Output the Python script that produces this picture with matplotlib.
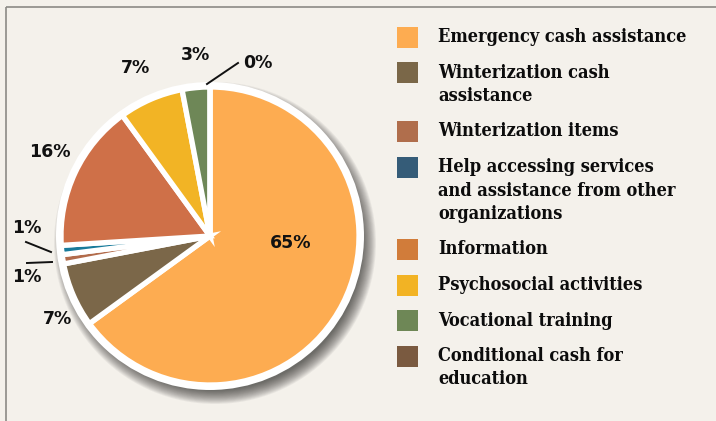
import matplotlib
matplotlib.use("Agg")
import matplotlib.pyplot as plt
from matplotlib.patches import Circle, Rectangle
from matplotlib import font_manager as fm

# ---- data ----
categories = [
    "Emergency cash assistance",
    "Winterization cash\nassistance",
    "Winterization items",
    "Help accessing services\nand assistance from other\norganizations",
    "Information",
    "Psychosocial activities",
    "Vocational training",
    "Conditional cash for\neducation",
]
values = [65, 7, 1, 1, 16, 7, 3, 0]
pct_labels = ["65%", "7%", "1%", "1%", "16%", "7%", "3%", "0%"]

# ---- styles ----
pie_colors = ["#FDAC51", "#7B6749", "#B26B4B", "#187B9B", "#CF7048", "#F2B425", "#6E8757", "#7A5A40"]
legend_colors = ["#FDAC51", "#7A6748", "#B06E4C", "#355C78", "#D17C3A", "#F2B324", "#6E8756", "#7A5A40"]
# label positions in pixel coords (x, y from top)
label_pos = [(291, 243), (57, 319), (27, 277), (27, 228), (50, 152), (135, 68), (195, 55), (258, 63)]
leaders = {2: ((27, 263), (52, 262)), 3: ((26, 242), (51, 252)), 7: ((207, 84), (238, 63))}

W, H = 716, 421
fig = plt.figure(figsize=(W / 100, H / 100), dpi=100)
fig.patch.set_facecolor("#F4F1EB")
ax = fig.add_axes([0, 0, 1, 1])

def Y(y):
    return H - y

cx, cy, r = 210, 236, 149

wedges, _ = ax.pie(values, colors=pie_colors, startangle=90, counterclock=False,
                   center=(cx, Y(cy)), radius=r, frame=False,
                   wedgeprops=dict(edgecolor="white", linewidth=3.8))
for w in wedges:
    w.set_zorder(3)

ax.set_xlim(0, W)
ax.set_ylim(0, H)
ax.set_aspect("equal")
ax.set_axis_off()
for s in ax.spines.values():
    s.set_visible(False)

# border lines (top & left)
ax.plot([6, W + 5], [Y(7), Y(7)], color="#8C8A86", lw=1.2, solid_capstyle="butt", clip_on=False)
ax.plot([6, 6], [Y(7), -5], color="#8C8A86", lw=1.2, solid_capstyle="butt", clip_on=False)

# shadow
for i in range(16):
    ax.add_patch(Circle((cx + 5, Y(cy + 7)), r + 12 - i * 0.9, facecolor="#222222",
                        edgecolor="none", alpha=0.06, zorder=1))
# white ring
ax.add_patch(Circle((cx, Y(cy)), r + 5, facecolor="white", edgecolor="none", zorder=2))

for i, (lab, (px, py)) in enumerate(zip(pct_labels, label_pos)):
    ax.text(px, Y(py), lab, ha="center", va="center", fontsize=12.5,
            fontweight="bold", family="DejaVu Sans", color="#111111", zorder=5)
for i, ((x0, y0), (x1, y1)) in leaders.items():
    ax.plot([x0, x1], [Y(y0), Y(y1)], color="#111111", lw=1.4, zorder=5)

# legend font
fp = fm.FontProperties(family="DejaVu Serif", weight="bold", stretch="condensed")
path = fm.findfont(fp, fallback_to_default=True)
if "Condensed" in path:
    font_kw = dict(fontproperties=fm.FontProperties(fname=path, size=13.1))
else:
    font_kw = dict(family="DejaVu Serif", fontweight="bold", fontsize=12.0)

y = 37
for cat, col in zip(categories, legend_colors):
    lines = cat.split("\n")
    ax.add_patch(Rectangle((397, Y(y + 10.5)), 21, 21, facecolor=col, edgecolor="none", zorder=5))
    for j, ln in enumerate(lines):
        ax.text(438, Y(y + j * 23.5), ln, ha="left", va="center", color="#0c0c0c",
                zorder=5, **font_kw)
    y += (len(lines) - 1) * 23.5 + 35.5

fig.savefig("out.png", dpi=100, facecolor=fig.get_facecolor())
